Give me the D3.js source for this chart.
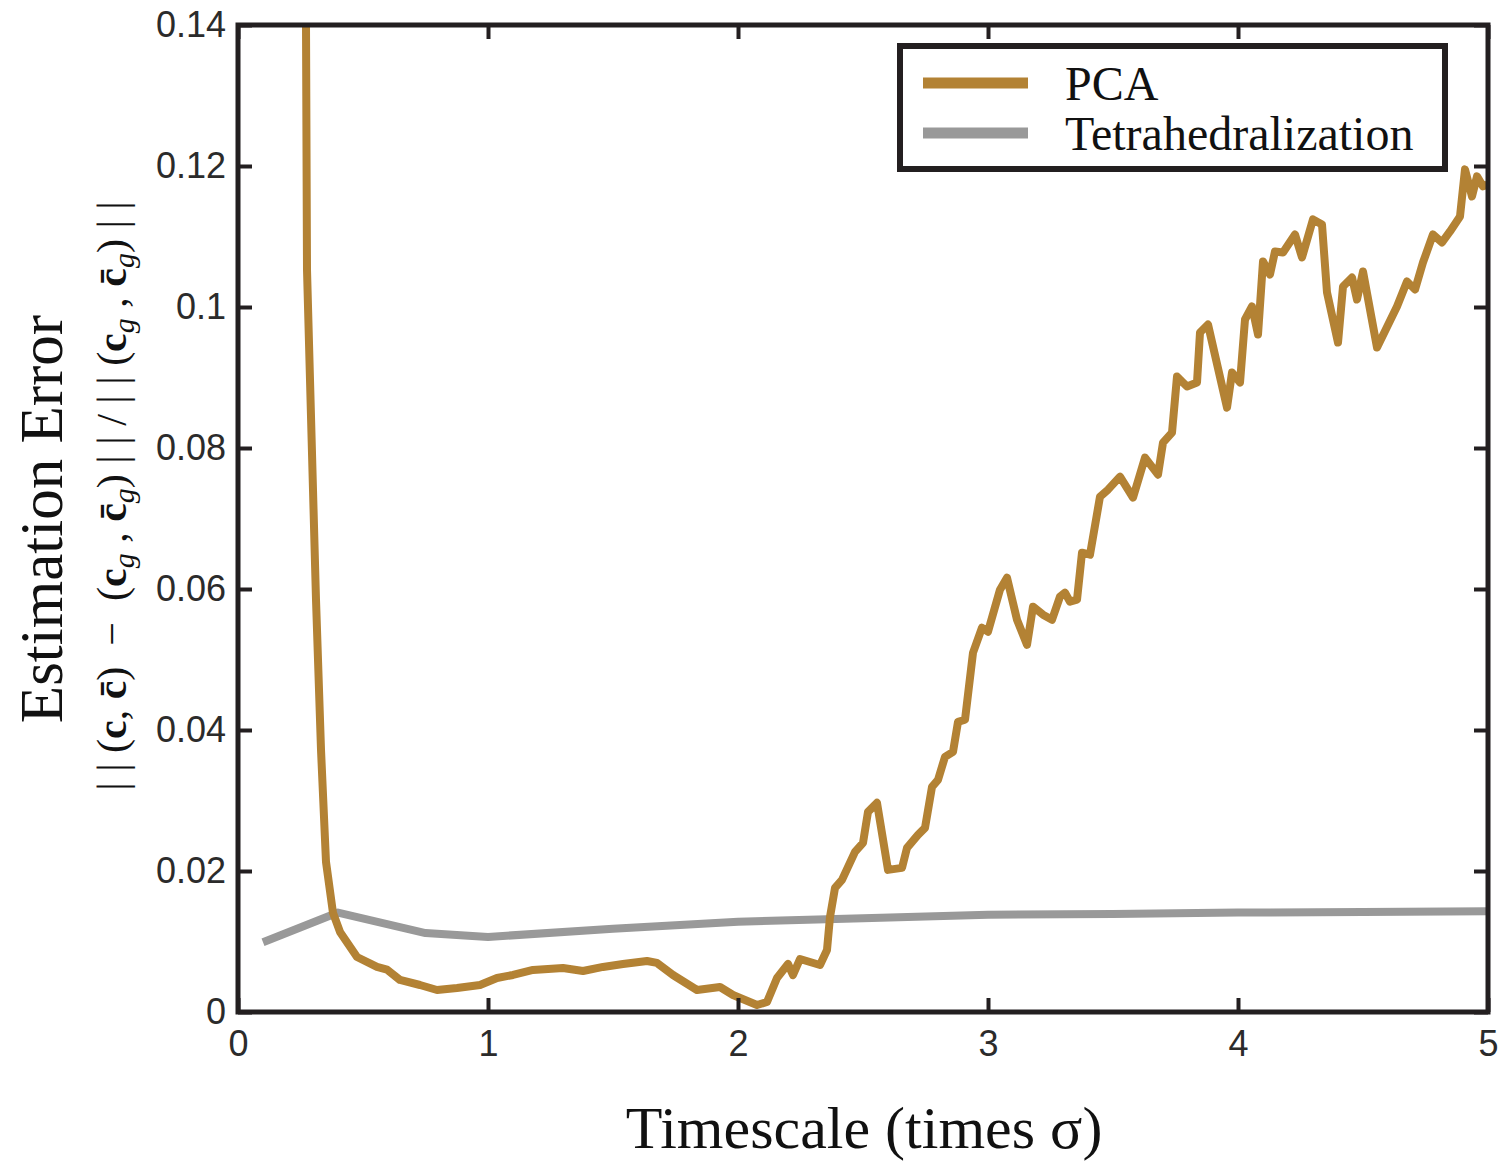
<!DOCTYPE html>
<html>
<head>
<meta charset="utf-8">
<script src="https://cdn.jsdelivr.net/npm/d3@7"></script>
<style>
  body { margin: 0; background: #fff; }
</style>
</head>
<body>
<svg id="chart"></svg>
<script>
// Data
const pcaX = [0.26, 0.272, 0.276, 0.312, 0.332, 0.352, 0.38, 0.408, 0.476, 0.556, 0.596, 0.648, 0.728, 0.796, 0.876, 0.968,
  1.036, 1.1, 1.18, 1.3, 1.38, 1.46, 1.54, 1.636, 1.676, 1.74, 1.836, 1.928, 1.98,
  2.076, 2.116, 2.156, 2.2, 2.22, 2.248, 2.328, 2.356, 2.368, 2.388, 2.416, 2.468, 2.5, 2.52, 2.556, 2.6, 2.656, 2.676,
  2.72, 2.748, 2.776, 2.8, 2.828, 2.86, 2.88, 2.908, 2.94, 2.976,
  3.0, 3.048, 3.076, 3.116, 3.156, 3.18, 3.22, 3.256, 3.288, 3.308, 3.328, 3.356, 3.376, 3.408, 3.448, 3.48, 3.528, 3.58,
  3.628, 3.68, 3.7, 3.736, 3.756, 3.796, 3.836, 3.848, 3.88, 3.956, 3.976,
  4.008, 4.028, 4.056, 4.08, 4.1, 4.128, 4.148, 4.18, 4.228, 4.256, 4.3, 4.336, 4.356, 4.4, 4.42, 4.456, 4.476, 4.5,
  4.556, 4.636, 4.676, 4.708, 4.74, 4.78, 4.816, 4.848, 4.888, 4.908, 4.936, 4.956, 4.98, 5.0];
const pcaY = [0.15, 0.140, 0.1053, 0.0585, 0.0372, 0.0213, 0.01405, 0.01136, 0.0078, 0.0064, 0.0060, 0.00454, 0.00383, 0.00312, 0.00341, 0.00383,
  0.00483, 0.00525, 0.00596, 0.00625, 0.00582, 0.00639, 0.00681, 0.00724, 0.00696, 0.00525, 0.00312, 0.00355, 0.00241,
  0.00099, 0.00142, 0.00483, 0.00681, 0.00525, 0.00752, 0.00667, 0.0088, 0.01348, 0.0176, 0.01874, 0.02271, 0.02399, 0.02839, 0.02967, 0.02016, 0.02044, 0.02328,
  0.02512, 0.02612, 0.03194, 0.03293, 0.0362, 0.0369, 0.04116, 0.04145, 0.05096, 0.05451,
  0.05394, 0.0599, 0.0616, 0.05564, 0.05209, 0.05749, 0.05635, 0.05564, 0.05891, 0.05947, 0.0582, 0.05848, 0.06515, 0.06487, 0.0731, 0.07409, 0.07594, 0.07296,
  0.07864, 0.07622, 0.08077, 0.08219, 0.09013, 0.08872, 0.08928, 0.09638, 0.09752, 0.08573, 0.0907,
  0.08928, 0.09823, 0.10007, 0.0961, 0.10646, 0.10461, 0.10788, 0.10774, 0.11029, 0.10703, 0.11242, 0.11171, 0.10206, 0.09496, 0.10291, 0.10419, 0.10106, 0.10504,
  0.09425, 0.10007, 0.10362, 0.10248, 0.10632, 0.11029, 0.10916, 0.11072, 0.11285, 0.11952, 0.11569, 0.11852, 0.11711, 0.1174];

const tetraX = [0.1, 0.4, 0.75, 1.0, 1.5, 2.0, 2.5, 3.0, 3.5, 4.0, 4.5, 5.0];
const tetraY = [0.0099, 0.0141, 0.0112, 0.01065, 0.0118, 0.0128, 0.0133, 0.0138, 0.0139, 0.0141, 0.0142, 0.0143];

const xTicks = [0, 1, 2, 3, 4, 5];
const yTicks = [0, 0.02, 0.04, 0.06, 0.08, 0.1, 0.12, 0.14];
const yTickLabels = ["0", "0.02", "0.04", "0.06", "0.08", "0.1", "0.12", "0.14"];

const seriesNames = ["PCA", "Tetrahedralization"];
const seriesColors = ["#b38234", "#999999"];

// Set up the SVG container
const svgWidth = 1503;
const svgHeight = 1166;
const svg = d3.select("#chart")
  .attr("width", svgWidth)
  .attr("height", svgHeight);

const plot = { left: 238, right: 1488, top: 25, bottom: 1012 };

const x = d3.scaleLinear().domain([0, 5]).range([plot.left, plot.right]);
const y = d3.scaleLinear().domain([0, 0.14]).range([plot.bottom, plot.top]);

svg.append("clipPath").attr("id", "clip")
  .append("rect")
  .attr("x", plot.left).attr("y", plot.top)
  .attr("width", plot.right - plot.left)
  .attr("height", plot.bottom - plot.top);

const line = d3.line().x(d => x(d[0])).y(d => y(d[1]));

const tetraData = tetraX.map((v, i) => [v, tetraY[i]]);
const pcaData = pcaX.map((v, i) => [v, pcaY[i]]);

const lines = svg.append("g").attr("clip-path", "url(#clip)");
lines.append("path")
  .datum(tetraData)
  .attr("d", line)
  .attr("fill", "none")
  .attr("stroke", seriesColors[1])
  .attr("stroke-width", 8)
  .attr("stroke-linejoin", "round");

lines.append("path")
  .datum(pcaData)
  .attr("d", line)
  .attr("fill", "none")
  .attr("stroke", seriesColors[0])
  .attr("stroke-width", 8)
  .attr("stroke-linejoin", "round");

// Axes: ticks point inward on all four sides
const tickLen = 14;
function styleAxis(g) {
  g.select(".domain").remove();
  g.selectAll(".tick line").attr("stroke", "#231f20").attr("stroke-width", 4);
  g.selectAll(".tick text")
    .attr("fill", "#2b2b2b")
    .style("font-family", "'Liberation Sans', Arial, sans-serif")
    .style("font-size", "36px");
}

svg.append("g")
  .attr("transform", `translate(0,${plot.bottom})`)
  .call(d3.axisBottom(x).tickValues(xTicks).tickSizeInner(-tickLen).tickPadding(18).tickFormat(d3.format("d")))
  .call(styleAxis);

svg.append("g")
  .attr("transform", `translate(0,${plot.top})`)
  .call(d3.axisTop(x).tickValues(xTicks).tickSizeInner(-tickLen).tickFormat(""))
  .call(styleAxis);

svg.append("g")
  .attr("transform", `translate(${plot.left},0)`)
  .call(d3.axisLeft(y).tickValues(yTicks).tickSizeInner(-tickLen).tickPadding(12)
    .tickFormat((d, i) => yTickLabels[i]))
  .call(styleAxis);

svg.append("g")
  .attr("transform", `translate(${plot.right},0)`)
  .call(d3.axisRight(y).tickValues(yTicks).tickSizeInner(-tickLen).tickFormat(""))
  .call(styleAxis);

// frame
svg.append("rect")
  .attr("x", plot.left).attr("y", plot.top)
  .attr("width", plot.right - plot.left)
  .attr("height", plot.bottom - plot.top)
  .attr("fill", "none")
  .attr("stroke", "#231f20")
  .attr("stroke-width", 5);

// Legend
const legend = svg.append("g").attr("transform", "translate(900,46)");
legend.append("rect")
  .attr("width", 545).attr("height", 123)
  .attr("fill", "white")
  .attr("stroke", "#231f20")
  .attr("stroke-width", 6);

seriesNames.forEach((name, i) => {
  const ly = 37 + i * 50;
  legend.append("line")
    .attr("x1", 23).attr("x2", 128)
    .attr("y1", ly).attr("y2", ly)
    .attr("stroke", seriesColors[i])
    .attr("stroke-width", 11);
  legend.append("text")
    .attr("x", 165).attr("y", ly + 17)
    .style("font-family", "'Liberation Serif', 'Times New Roman', serif")
    .style("font-size", "48px")
    .attr("fill", "#111")
    .text(name);
});

// X axis title
svg.append("text")
  .attr("x", 864).attr("y", 1148)
  .attr("text-anchor", "middle")
  .style("font-family", "'Liberation Serif', 'Times New Roman', serif")
  .style("font-size", "60px")
  .attr("fill", "#111")
  .text("Timescale (times σ)");

// Y axis title, two lines
svg.append("text")
  .attr("transform", "translate(62,519) rotate(-90)")
  .attr("text-anchor", "middle")
  .style("font-family", "'Liberation Serif', 'Times New Roman', serif")
  .style("font-size", "61px")
  .attr("fill", "#111")
  .text("Estimation Error");

const math = svg.append("text")
  .attr("transform", "translate(126,496) rotate(-90)")
  .attr("text-anchor", "middle")
  .style("font-family", "'Liberation Serif', 'Times New Roman', serif")
  .style("font-size", "42px")
  .style("white-space", "pre")
  .attr("fill", "#111");

// pieces: [text, bold, subscript]
const mathParts = [
  ["| | (", false, false], ["c", true, false], [", ", false, false], ["c\u0304", true, false],
  [")  \u2212  (", false, false], ["c", true, false], ["g", false, true], [" , ", false, false],
  ["c\u0304", true, false], ["g", false, true], [") | | / | | (", false, false],
  ["c", true, false], ["g", false, true], [" , ", false, false], ["c\u0304", true, false],
  ["g", false, true], [") | |", false, false]
];
mathParts.forEach(p => {
  const t = math.append("tspan").text(p[0]);
  if (p[1]) t.style("font-weight", "bold");
  if (p[2]) t.style("font-style", "italic").style("font-size", "30px").attr("baseline-shift", "-25%");
});
</script>
</body>
</html>
